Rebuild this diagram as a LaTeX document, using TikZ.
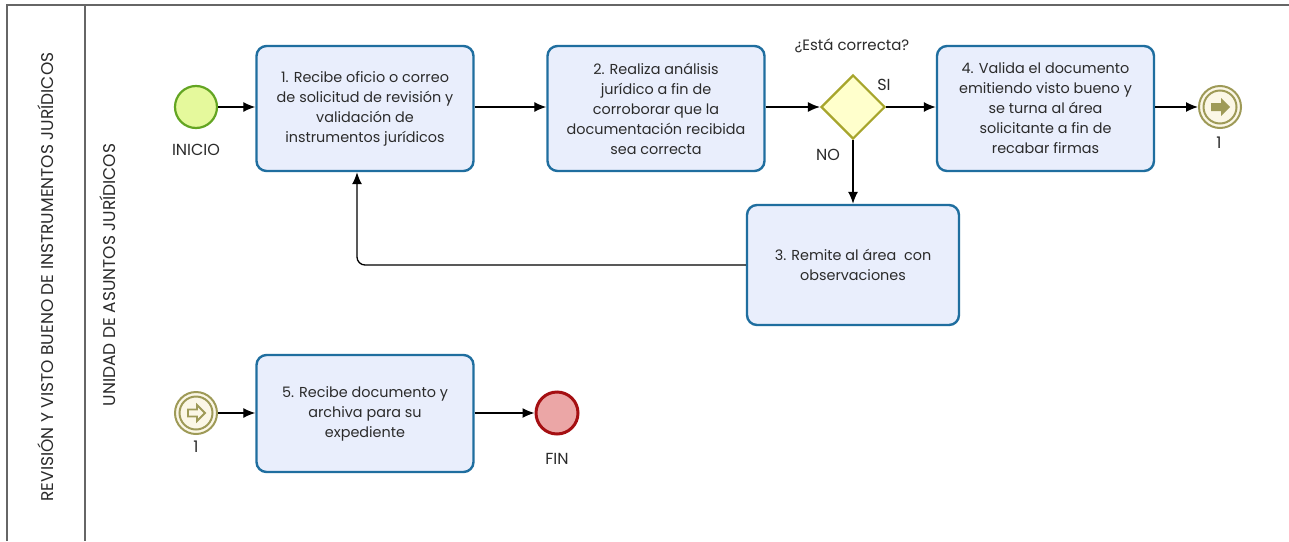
\documentclass[tikz,border=0pt]{standalone}
\usepackage{fontspec}
\setmainfont{Poppins}
\usetikzlibrary{shapes.geometric,arrows.meta}
\definecolor{taskfill}{HTML}{E9EEFC}
\definecolor{taskline}{HTML}{1F6E9F}
\definecolor{startfill}{HTML}{E5F99C}
\definecolor{startline}{HTML}{63A522}
\definecolor{gwfill}{HTML}{FFFFCC}
\definecolor{gwline}{HTML}{A7A52C}
\definecolor{endfill}{HTML}{EBA6A6}
\definecolor{endline}{HTML}{A50F12}
\definecolor{linkfill}{HTML}{FBF7E6}
\definecolor{linkline}{HTML}{9E9A57}
\definecolor{txt}{HTML}{2B2B2B}
\definecolor{frame}{HTML}{666666}
\tikzset{
  task/.style={draw=taskline, fill=taskfill, line width=2.4pt, rounded corners=10pt,
    minimum width=217pt, minimum height=125pt, align=center, text=txt,
    font=\fontsize{14.4}{20}\selectfont, inner sep=0pt},
  evt/.style={circle, minimum size=42pt, inner sep=0pt},
  startev/.style={evt, draw=startline, fill=startfill, line width=2.2pt},
  endev/.style={evt, draw=endline, fill=endfill, line width=3pt},
  linkev/.style={evt, draw=linkline, fill=linkfill, line width=2pt},
  gateway/.style={diamond, aspect=1, draw=gwline, fill=gwfill, line width=2.2pt,
    minimum width=64pt, minimum height=64pt, inner sep=0pt},
  lbl/.style={text=txt, font=\fontsize{16}{18}\selectfont, inner sep=0pt},
  lanelbl/.style={text=txt, font=\fontsize{17}{19}\selectfont, inner sep=0pt, rotate=90},
  flow/.style={-{Latex[length=12pt,width=10pt]}, line width=1.3pt, black},
  lane/.style={draw=frame, line width=1.5pt}
}
\begin{document}
\begin{tikzpicture}[x=1pt,y=-1pt]
\useasboundingbox (0,0) rectangle (1289,541);
\fill[white] (0,0) rectangle (1289,541);

% pool and lane frame
\draw[lane] (7,541) -- (7,5) -- (1289,5);
\draw[lane] (85,5) -- (85,541);
\node[lanelbl] (pool) at (46,277)
  {REVISIÓN Y VISTO BUENO DE INSTRUMENTOS JURÍDICOS};
\node[lanelbl] (lanename) at (108,275)
  {UNIDAD DE ASUNTOS JURÍDICOS};

% events, tasks and gateway
\node[startev] (start) at (196,107) {};
\node[lbl, anchor=north] (startlbl) at (196,144) {INICIO};

\node[task] (t1) at (365,108.5)
  {1. Recibe oficio o correo\\de solicitud de revisión y\\validación de\\instrumentos jurídicos};
\node[task] (t2) at (656,108.5)
  {2. Realiza análisis\\jurídico a fin de\\corroborar que la\\documentación recibida\\sea correcta};
\node[gateway] (gw) at (853,107) {};
\node[lbl, font=\fontsize{15}{17}\selectfont] (gwq) at (852,46) {¿Está correcta?};
\node[lbl] (si) at (884,85) {SI};
\node[lbl] (no) at (828,155) {NO};
\node[task] (t4) at (1045.5,108.5)
  {4. Valida el documento\\emitiendo visto bueno y\\se turna al área\\solicitante a fin de\\recabar firmas};
\node[linkev] (thr) at (1220,107) {};
\draw[linkline, line width=2pt] (thr.center) circle (16.5pt);
\fill[linkline] ([shift={(-9,-4)}]thr.center) -- ++(10,0) -- ++(0,-5) -- ++(9,9)
  -- ++(-9,9) -- ++(0,-5) -- ++(-10,0) -- cycle;
\node[lbl, anchor=north] (thrlbl) at (1219,137) {1};

\node[task, minimum width=212pt, minimum height=120pt] (t3) at (853,265)
  {3. Remite al área \ con\\observaciones};

\node[linkev] (cat) at (196,413) {};
\draw[linkline, line width=2pt] (cat.center) circle (16.5pt);
\draw[linkline, line width=1.8pt, line join=miter] ([shift={(-8,-3.5)}]cat.center) -- ++(9,0) -- ++(0,-4.5) -- ++(8,8)
  -- ++(-8,8) -- ++(0,-4.5) -- ++(-9,0) -- cycle;
\node[lbl, anchor=north] (catlbl) at (196,441) {1};

\node[task, minimum height=117pt] (t5) at (365,413.5)
  {5. Recibe documento y\\archiva para su\\expediente};
\node[endev] (fin) at (557,413) {};
\node[lbl, anchor=north] (finlbl) at (557,453) {FIN};

% sequence flows
\draw[flow] (start) -- (t1.west |- start);
\draw[flow] (t1.east |- start) -- (t2.west |- start);
\draw[flow] (t2.east |- gw) -- (gw.west);
\draw[flow] (gw.east) -- (t4.west |- gw);
\draw[flow] (t4.east |- thr) -- (thr.west);
\draw[flow] (gw.south) -- (t3.north);
\draw[flow, rounded corners=8pt] (t3.west) -| ([xshift=-8pt]t1.south);
\draw[flow] (cat) -- (t5.west |- cat);
\draw[flow] (t5.east |- fin) -- (fin.west);
\end{tikzpicture}
\end{document}
